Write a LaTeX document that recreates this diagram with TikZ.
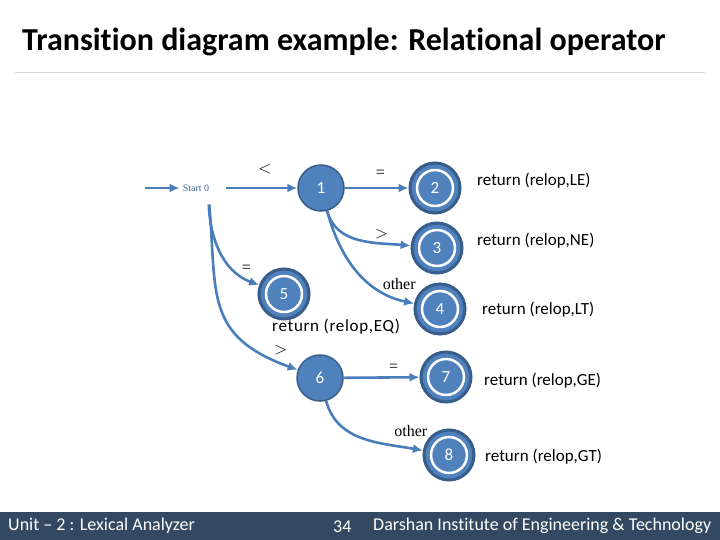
\documentclass[tikz,border=0pt]{standalone}
\usepackage{fontspec}
\setmainfont{Carlito}[Ligatures=NoCommon]
\newfontfamily\labelfont{Liberation Serif}
\usetikzlibrary{arrows.meta, positioning}
\definecolor{stateblue}{RGB}{79,129,189}
\definecolor{stateline}{RGB}{56,93,138}
\definecolor{edgeblue}{RGB}{74,126,187}
\definecolor{footbar}{RGB}{51,72,97}
\tikzset{
  state/.style={
    circle,
    draw=stateline,
    line width=1.5pt,
    fill=stateblue,
    text=white,
    minimum size=46pt,
    inner sep=0pt,
    font=\fontsize{17}{17}\selectfont
  },
  accept/.style={
    state,
    line width=3pt,
    minimum size=50pt,
    path picture={\draw[white, line width=2.5pt] (path picture bounding box.center) circle (18pt);}
  },
  sym/.style={font=\labelfont\fontsize{16}{16}\selectfont, inner sep=1pt},
  ret/.style={anchor=west, font=\fontsize{17}{17}\selectfont, inner sep=0pt},
  foot/.style={anchor=west, text=white, font=\fontsize{18}{18}\selectfont, inner sep=0pt}
}
\tikzstyle{arrow} = [-{Latex[length=10pt,width=9pt]}, line width=2.6pt, draw=edgeblue]

\begin{document}
\begin{tikzpicture}[x=1pt, y=-1pt]
    \useasboundingbox (0,0) rectangle (720,540);
    % title and footer
    \node[anchor=west, font=\bfseries\fontsize{32}{32}\selectfont, inner sep=0pt] (title) at (22,42) {Transition diagram example: Relational operator};
    \draw[black!15, line width=0.8pt] (15,72) -- (705,72);
    \fill[footbar] (0,512) rectangle (720,540);
    \node[foot] (unit) at (8,526) {Unit -- 2 : Lexical Analyzer};
    \node[foot] (page) at (333,527) {34};
    \node[foot] (inst) at (373,526) {Darshan Institute of Engineering \& Technology};
    % states
    \coordinate (in) at (145,188);
    \node[text=edgeblue!80!black, font=\labelfont\fontsize{10}{12}\selectfont, inner sep=3pt] (s0) at (196,188) {Start 0};
    \node[state] (n1) at (321,188) {1};
    \node[accept] (n2) at (435,188) {2};
    \node[accept] (n3) at (437,248) {3};
    \node[accept] (n4) at (440,309) {4};
    \node[accept] (n5) at (284,294) {5};
    \node[state] (n6) at (320,378) {6};
    \node[accept] (n7) at (446,377) {7};
    \node[accept] (n8) at (449,455) {8};
    % return values
    \node[ret] (r2) at (477,181) {return (relop,LE)};
    \node[ret] (r3) at (477,241) {return (relop,NE)};
    \node[ret] (r4) at (482,310) {return (relop,LT)};
    \node[ret] (r7) at (484,381) {return (relop,GE)};
    \node[ret] (r8) at (485,457) {return (relop,GT)};
    \node[ret, font=\addfontfeatures{LetterSpace=4}\fontsize{17}{17}\selectfont] (r5) at (272,327) {return (relop,EQ)};
    % transitions
    \draw[arrow] (in) -- (s0);
    \draw[arrow, shorten <=14pt] (s0) -- node[sym, above=12pt, pos=0.62] {$<$} (n1);
    \draw[arrow] (n1) -- node[sym, above=8pt, pos=0.56] {=} (n2);
    \draw[arrow] (n1) to [out=-75, in=175] node[sym, above right=1pt and 4pt, pos=0.6] {$>$} (n3);
    \draw[arrow] (n1) to [out=-75, in=168] node[sym, above right=-3pt and 2pt, pos=0.72] {other} (n4);
    \draw[arrow, shorten <=10pt] ([xshift=-4pt]s0.south east) to [out=-88, in=160] node[sym, above right=-8pt and 8pt, pos=0.7] {=} (n5);
    \draw[arrow, shorten <=10pt] ([xshift=-4pt]s0.south east) to [out=-85, in=160, looseness=1.3] node[sym, right=15pt, pos=0.82] {$>$} (n6);
    \draw[arrow] (n6) -- node[sym, above=4pt, pos=0.66] {=} (n7);
    \draw[arrow] (n6) to [out=-75, in=170] node[sym, above right=6pt and 4pt, pos=0.72] {other} (n8);
\end{tikzpicture}
\end{document}
